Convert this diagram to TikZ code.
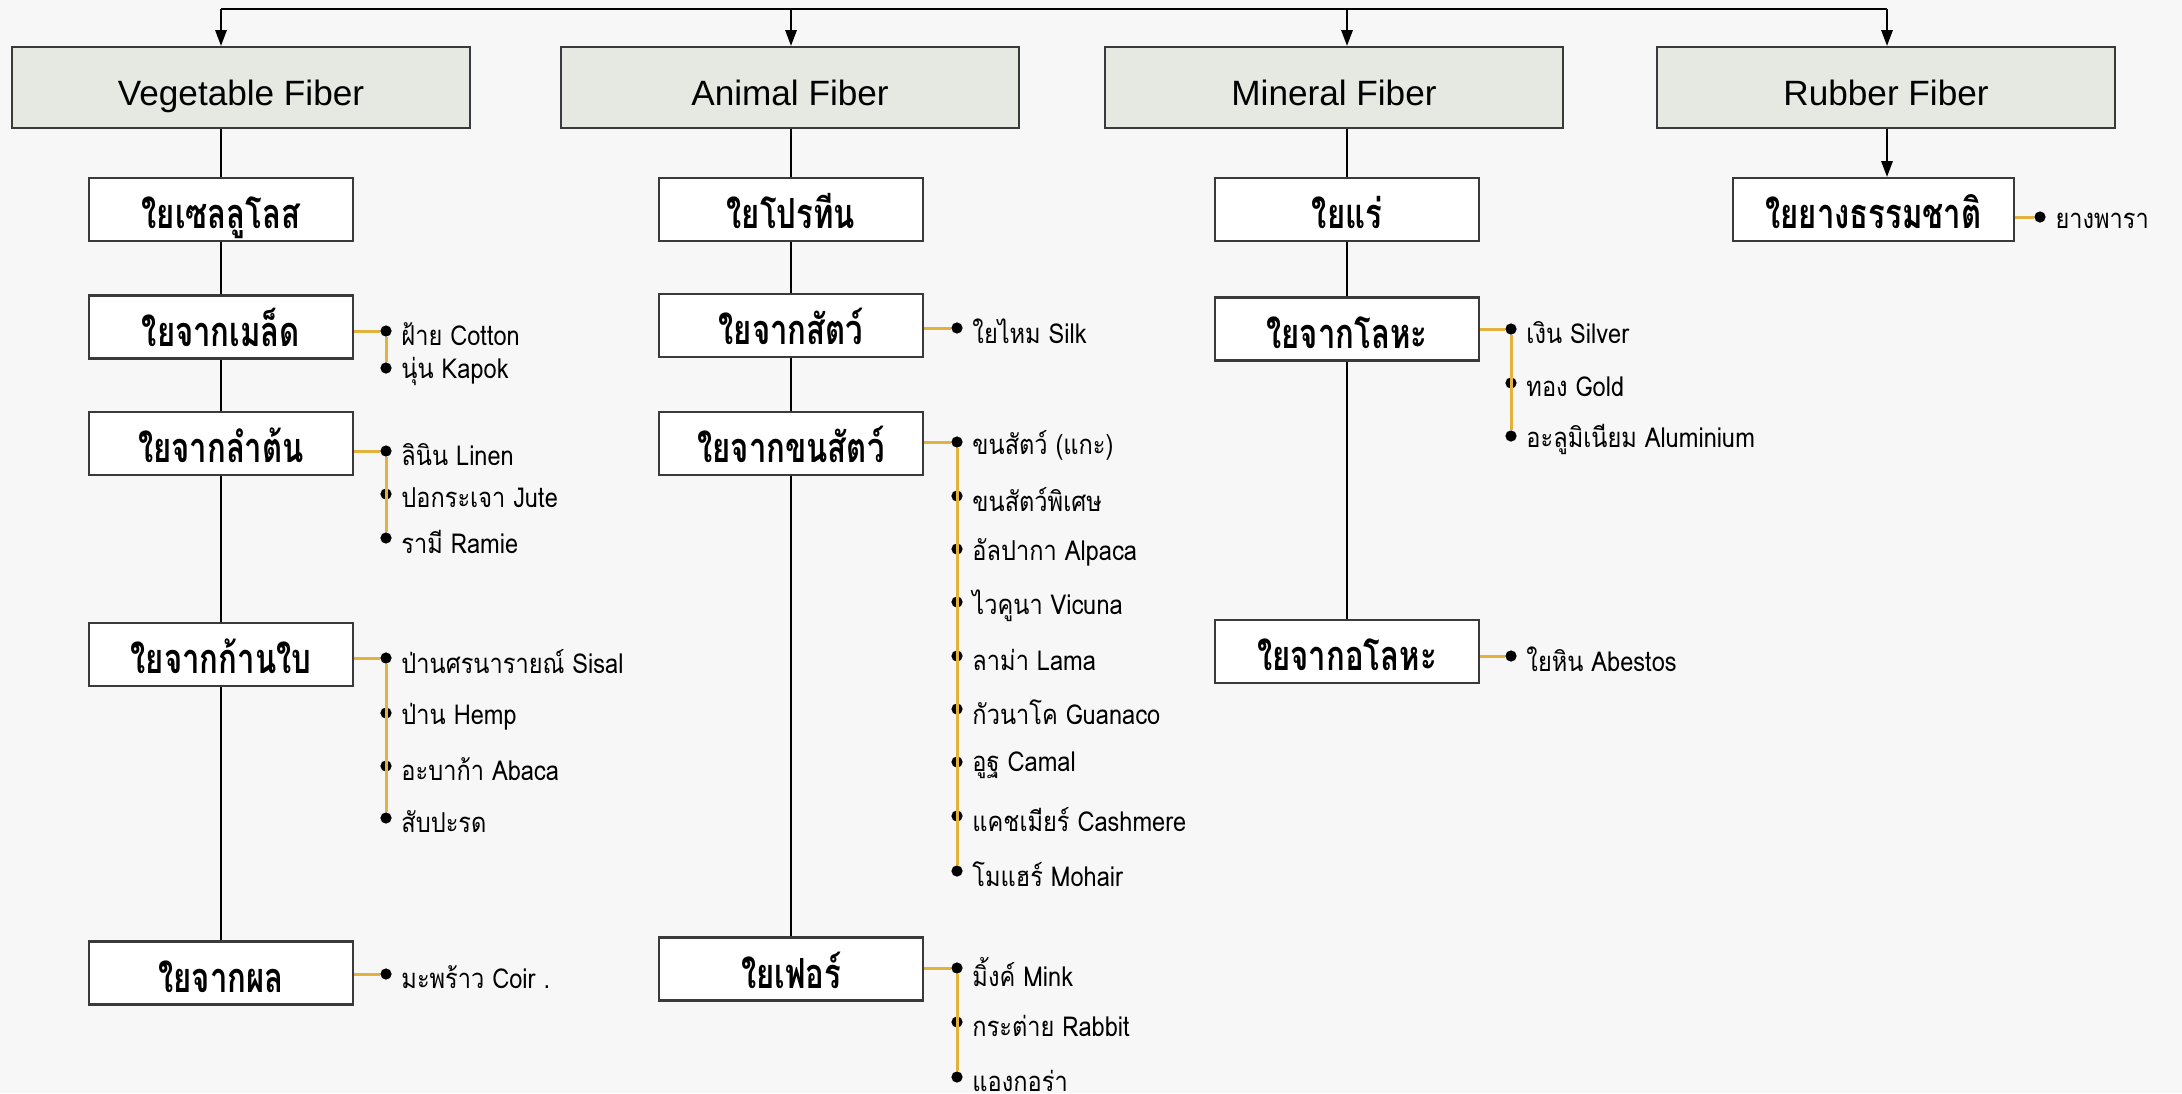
\documentclass[tikz,border=0pt]{standalone}
\usepackage{fontspec}
\setmainfont{Liberation Sans}
\newfontfamily\thaifont[Script=Thai]{Loma}
\newfontfamily\thaibox[Script=Thai, FakeStretch=0.75]{Loma}
\newfontfamily\thaiitem[Script=Thai, FakeStretch=0.86]{Loma}
\usetikzlibrary{positioning,arrows.meta}

\definecolor{bgcol}{HTML}{F7F7F7}
\definecolor{headfill}{HTML}{E6E8E2}
\definecolor{goldline}{HTML}{E3B23C}
\definecolor{boxline}{HTML}{3A3A3A}

\tikzset{
  headbox/.style={draw=boxline, line width=0.6pt, fill=headfill, minimum width=4.58cm, minimum height=0.81cm,
    text height=10.5pt, text depth=0pt, font=\fontsize{10}{12}\selectfont},
  subbox/.style={draw=boxline, line width=0.6pt, fill=white, minimum width=2.64cm, minimum height=0.63cm,
    inner ysep=2pt, text height=10.8pt, text depth=0pt, font=\thaibox\bfseries\fontsize{11.8}{14}\selectfont},
  dotnode/.style={circle, fill=black, inner sep=0pt, minimum size=3.2pt},
  itemtxt/.style={font=\thaiitem\fontsize{7.8}{9}\selectfont, inner sep=0pt},
  arr/.style={-{Triangle[length=4.5pt,width=3.2pt]}, line width=0.6pt},
  colline/.style={line width=0.6pt},
  goldlink/.style={draw=goldline, line width=0.85pt}
}

% dot and its text: #1 name, #2 x, #3 y, #4 text
\newcommand\fibitem[4]{
  \node[dotnode] (#1) at (#2,#3) {};
  \node[itemtxt, right=2.4pt of #1, yshift=-1pt] (#1t) {#4};
}

\begin{document}
\begin{tikzpicture}[x=0.01cm, y=-0.01cm]
    \fill[bgcol] (0,0) rectangle (2182,1093);
    \useasboundingbox (0,0) rectangle (2182,1093);

    % top row
    \node[headbox] (vhead) at (241,87.5) {Vegetable Fiber};
    \node[headbox] (ahead) at (790,87.5) {Animal Fiber};
    \node[headbox] (mhead) at (1334,87.5) {Mineral Fiber};
    \node[headbox] (rhead) at (1886,87.5) {Rubber Fiber};

    % top line and arrows
    \coordinate (tv) at (221,9);
    \coordinate (ta) at (791,9);
    \coordinate (tm) at (1347,9);
    \coordinate (tr) at (1887,9);
    \draw[line width=0.8pt] (tv) -- (tr);
    \draw[arr] (tv) -- (tv |- vhead.north);
    \draw[arr] (ta) -- (ta |- ahead.north);
    \draw[arr] (tm) -- (tm |- mhead.north);
    \draw[arr] (tr) -- (tr |- rhead.north);

    % vegetable column
    \node[subbox] (v0) at (221,209.5) {ใยเซลลูโลส};
    \node[subbox] (v1) at (221,327) {ใยจากเมล็ด};
    \node[subbox] (v2) at (221,443.5) {ใยจากลำต้น};
    \node[subbox] (v3) at (221,654.5) {ใยจากก้านใบ};
    \node[subbox] (v4) at (221,973) {ใยจากผล};

    % animal column
    \node[subbox] (a0) at (791,209.5) {ใยโปรทีน};
    \node[subbox] (a1) at (791,325.5) {ใยจากสัตว์};
    \node[subbox] (a2) at (791,443.5) {ใยจากขนสัตว์};
    \node[subbox] (a3) at (791,969) {ใยเฟอร์};

    % mineral column
    \node[subbox] (m0) at (1347,209.5) {ใยแร่};
    \node[subbox] (m1) at (1347,329) {ใยจากโลหะ};
    \node[subbox] (m2) at (1347,651.5) {ใยจากอโลหะ};

    % rubber
    \node[subbox, minimum width=2.81cm] (r0) at (1873.5,209.5) {ใยยางธรรมชาติ};

    % column lines
    \draw[colline] (vhead.south -| v0) -- (v0.north);
    \draw[colline] (ahead.south -| a0) -- (a0.north);
    \draw[colline] (mhead.south -| m0) -- (m0.north);
    \foreach \a/\b in {v0/v1, v1/v2, v2/v3, v3/v4, a0/a1, a1/a2, a2/a3, m0/m1, m1/m2}
        \draw[colline] (\a.south) -- (\b.north);
    \draw[arr] (tr |- rhead.south) -- (tr |- r0.north);

    % seed
    \fibitem{v1a}{386}{331}{ฝ้าย Cotton}
    \fibitem{v1b}{386}{368}{นุ่น Kapok}
    \draw[goldlink] (v1.east |- v1a) -- (v1a);
    \draw[goldlink] (v1a) -- (v1b);

    % stem
    \fibitem{v2a}{386}{451}{ลินิน Linen}
    \fibitem{v2b}{386}{494}{ปอกระเจา Jute}
    \fibitem{v2c}{386}{538}{รามี Ramie}
    \draw[goldlink] (v2.east |- v2a) -- (v2a);
    \draw[goldlink] (v2a) -- (v2c);

    % leaf
    \fibitem{v3a}{386}{658}{ป่านศรนารายณ์ Sisal}
    \fibitem{v3b}{386}{713}{ป่าน Hemp}
    \fibitem{v3c}{386}{766}{อะบาก้า Abaca}
    \fibitem{v3d}{386}{818}{สับปะรด}
    \draw[goldlink] (v3.east |- v3a) -- (v3a);
    \draw[goldlink] (v3a) -- (v3d);

    % fruit
    \fibitem{v4a}{386}{974}{มะพร้าว Coir .}
    \draw[goldlink] (v4.east |- v4a) -- (v4a);

    % silk
    \fibitem{a1a}{957}{328}{ใยไหม Silk}
    \draw[goldlink] (a1.east |- a1a) -- (a1a);

    % hair
    \fibitem{a2a}{957}{442}{ขนสัตว์ (แกะ)}
    \fibitem{a2b}{957}{496}{ขนสัตว์พิเศษ}
    \fibitem{a2c}{957}{549}{อัลปากา Alpaca}
    \fibitem{a2d}{957}{602}{ไวคูนา Vicuna}
    \fibitem{a2e}{957}{656}{ลาม่า Lama}
    \fibitem{a2f}{957}{709}{กัวนาโค Guanaco}
    \fibitem{a2g}{957}{762}{อูฐ Camal}
    \fibitem{a2h}{957}{816}{แคชเมียร์ Cashmere}
    \fibitem{a2i}{957}{871}{โมแฮร์ Mohair}
    \draw[goldlink] (a2.east |- a2a) -- (a2a);
    \draw[goldlink] (a2a) -- (a2i);

    % fur
    \fibitem{a3a}{957}{968}{มิ้งค์ Mink}
    \fibitem{a3b}{957}{1022}{กระต่าย Rabbit}
    \fibitem{a3c}{957}{1077}{แองกอร่า}
    \draw[goldlink] (a3.east |- a3a) -- (a3a);
    \draw[goldlink] (a3a) -- (a3c);

    % metal
    \fibitem{m1a}{1511}{329}{เงิน Silver}
    \fibitem{m1b}{1511}{383}{ทอง Gold}
    \fibitem{m1c}{1511}{436}{อะลูมิเนียม Aluminium}
    \draw[goldlink] (m1.east |- m1a) -- (m1a);
    \draw[goldlink] (m1a) -- (m1c);

    % non metal
    \fibitem{m2a}{1511}{656}{ใยหิน Abestos}
    \draw[goldlink] (m2.east |- m2a) -- (m2a);

    % rubber item
    \fibitem{r0a}{2040}{217}{ยางพารา}
    \draw[goldlink] (r0.east |- r0a) -- (r0a);
\end{tikzpicture}
\end{document}
